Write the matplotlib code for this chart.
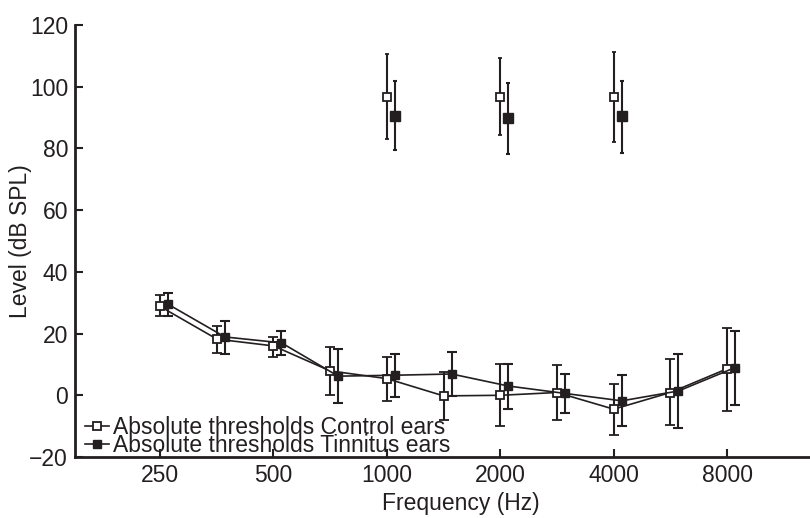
import numpy as np
import matplotlib
matplotlib.use('Agg')
import matplotlib.pyplot as plt

plt.rcParams['font.family'] = ['Liberation Sans', 'DejaVu Sans']
ink = '#231f20'

# half-octave test frequencies (Hz)
freqs = [250, 354, 500, 707, 1000, 1414, 2000, 2828, 4000, 5657, 8000]

# absolute thresholds, dB SPL (mean, lower and upper bar ends)
ctrl_mean = [28.8, 18.2, 16.0, 7.9, 5.4, -0.2, 0.0, 0.9, -4.5, 0.9, 8.6]
ctrl_low = [25.6, 13.8, 12.5, 0.1, -2.0, -8.0, -10.1, -8.0, -12.9, -9.7, -5.1]
ctrl_high = [32.4, 22.4, 18.9, 15.6, 12.5, 7.7, 10.0, 9.8, 3.8, 11.9, 21.9]

tin_mean = [29.5, 18.9, 17.0, 6.2, 6.5, 6.9, 3.0, 0.6, -1.8, 1.4, 9.0]
tin_low = [25.6, 13.4, 13.0, -2.6, -0.4, -0.2, -4.3, -5.8, -9.9, -10.5, -3.2]
tin_high = [33.2, 24.2, 20.8, 14.9, 13.3, 14.1, 10.0, 7.0, 6.5, 13.3, 20.8]

# upper points at 1, 2 and 4 kHz
up_freqs = [1000, 2000, 4000]
up_ctrl_mean = [96.8, 96.8, 96.8]
up_ctrl_low = [83.2, 84.5, 82.0]
up_ctrl_high = [110.7, 109.2, 111.2]
up_tin_mean = [90.6, 89.7, 90.4]
up_tin_low = [79.4, 78.3, 78.5]
up_tin_high = [101.7, 101.2, 102.0]

shift = 1.05  # tinnitus points drawn slightly to the right


def yerr(mean, low, high):
    m = np.array(mean)
    return [m - np.array(low), np.array(high) - m]


fig = plt.figure(figsize=(8.1, 5.18), dpi=100)
ax = fig.add_axes([75 / 810, 61 / 518, 735 / 810, 432 / 518])

xt = np.array(freqs) * shift
ax.errorbar(freqs, ctrl_mean, yerr=yerr(ctrl_mean, ctrl_low, ctrl_high),
            color=ink, lw=1.2, elinewidth=1.5, capsize=3.6, capthick=1.5,
            marker='s', ms=5.5, mfc='white', mec=ink, mew=1.3,
            label='Absolute thresholds Control ears', zorder=3)
ax.errorbar(xt, tin_mean, yerr=yerr(tin_mean, tin_low, tin_high),
            color=ink, lw=1.2, elinewidth=1.5, capsize=3.6, capthick=1.5,
            marker='s', ms=6, mfc=ink, mec=ink,
            label='Absolute thresholds Tinnitus ears', zorder=3)

ax.errorbar(up_freqs, up_ctrl_mean, yerr=yerr(up_ctrl_mean, up_ctrl_low, up_ctrl_high),
            ls='none', color=ink, elinewidth=1.5, capsize=1.6, capthick=1.5,
            marker='s', ms=6, mfc='white', mec=ink, mew=1.3)
ax.errorbar(np.array(up_freqs) * shift, up_tin_mean,
            yerr=yerr(up_tin_mean, up_tin_low, up_tin_high),
            ls='none', color=ink, elinewidth=1.5, capsize=1.6, capthick=1.5,
            marker='s', ms=6.5, mfc=ink, mec=ink)

ax.set_xscale('log', base=2)
ax.set_xlim(250 * 2 ** -0.75, 250 * 2 ** 5.73)
ax.set_ylim(-20, 120)
ticks = [250, 500, 1000, 2000, 4000, 8000]
ax.set_xticks(ticks)
ax.set_xticklabels([str(t) for t in ticks])
ax.minorticks_off()
ax.set_yticks(range(-20, 121, 20))

for s in ['top', 'right']:
    ax.spines[s].set_visible(False)
for s in ['left', 'bottom']:
    ax.spines[s].set_linewidth(2)
    ax.spines[s].set_color(ink)
ax.tick_params(direction='in', length=6, width=1.5, color=ink,
               labelsize=16.5, labelcolor=ink, pad=5)

ax.set_xlabel('Frequency (Hz)', fontsize=16.5, color=ink)
ax.set_ylabel('Level (dB SPL)', fontsize=16.5, color=ink)
ax.xaxis.set_label_coords((461 - 75) / 735, -0.08)
ax.yaxis.set_label_coords(-0.058, 0.5)

# legend shows only the line + marker, not the error bars
handles, labels = ax.get_legend_handles_labels()
handles = [h[0] for h in handles]
leg = ax.legend(handles, labels, loc='lower left', bbox_to_anchor=(0.013, 0.0),
                frameon=False, fontsize=16.5, handlelength=1.05,
                handletextpad=0.2, labelspacing=-0.22, borderpad=0,
                borderaxespad=0)
for t in leg.get_texts():
    t.set_color(ink)

fig.savefig('out.png', dpi=100)
